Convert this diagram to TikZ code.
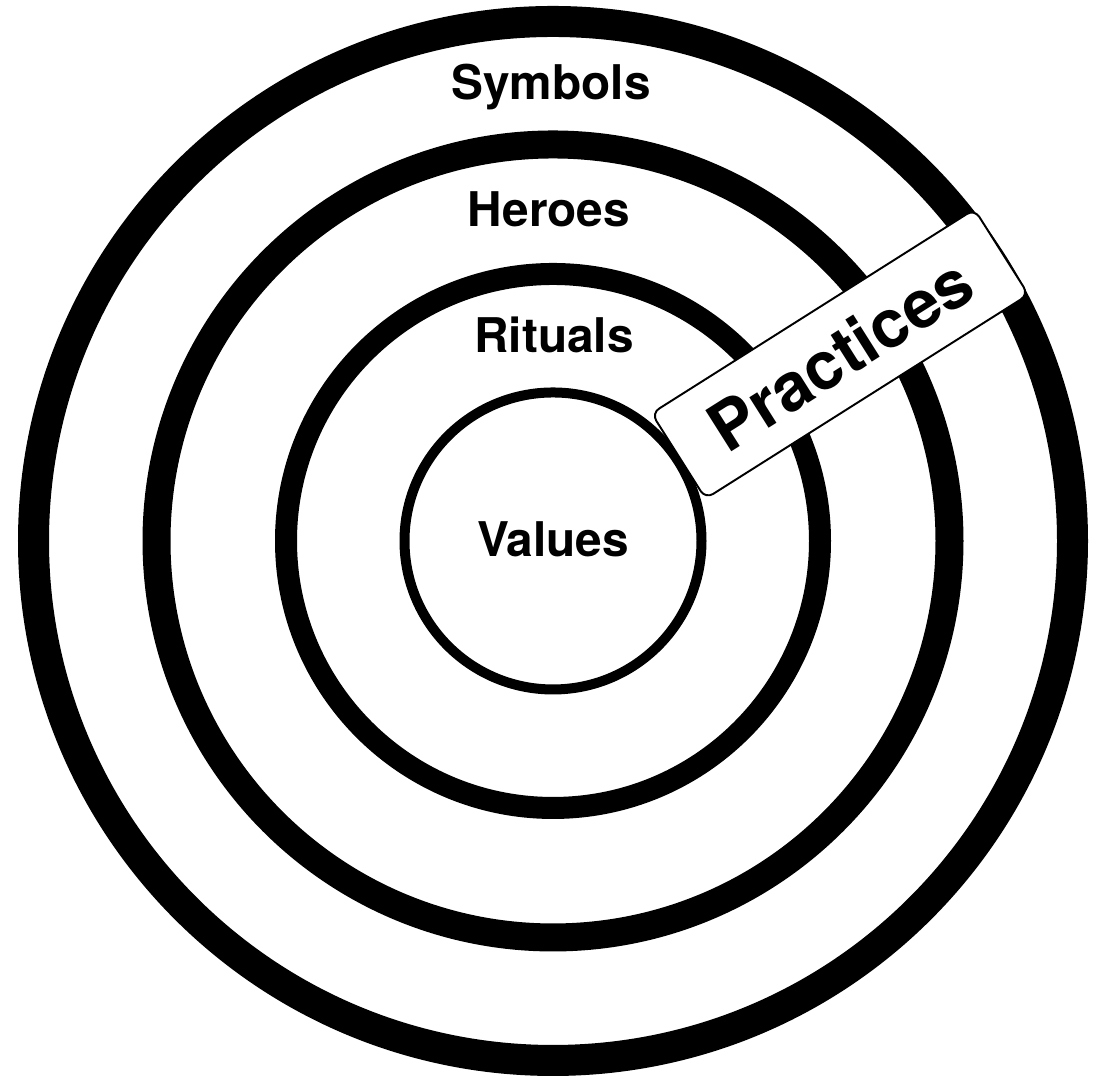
\documentclass[tikz,border=0pt]{standalone}
\usepackage{fontspec}
\setmainfont{TeX Gyre Heros}
\usepackage{tikz}
\tikzset{layer/.style={font=\bfseries\fontsize{13.6}{16}\selectfont, anchor=base, inner sep=0pt}}
\tikzset{tag/.style={draw, fill=white, line width=0.55pt, rounded corners=2.5pt, minimum width=3.82cm, minimum height=1.01cm, inner sep=0pt, rotate=32.3, font=\bfseries\fontsize{19}{22}\selectfont}}

\begin{document}
\begin{tikzpicture}

  \useasboundingbox (0,0) rectangle (11.02,10.81);
  \coordinate (c) at (5.53,5.40);

  \draw[line width=0.31cm] (c) circle (5.195);
  \draw[line width=0.28cm] (c) circle (3.965);
  \draw[line width=0.22cm] (c) circle (2.67);
  \draw[line width=0.10cm] (c) circle (1.485);

    \node[layer] at (5.51, 9.81)   (symbols) {Symbols};
    \node[layer] at (5.49, 8.54)   (heroes) {Heroes};
    \node[layer] at (5.54, 7.28)   (rituals) {Rituals};
    \node[layer] at (5.53, 5.24)   (values) {Values};

    \node[tag] at (8.40, 7.27)   (practices) {Practices};

\end{tikzpicture}
\end{document}
